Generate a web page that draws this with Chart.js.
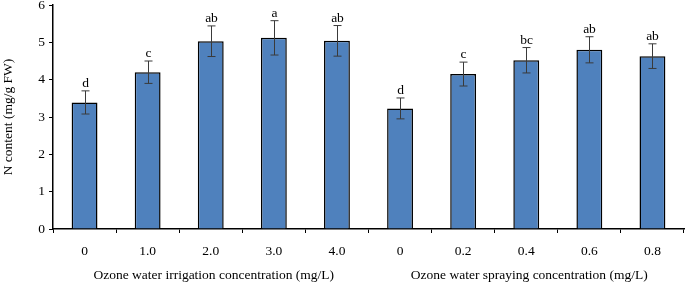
<!DOCTYPE html>
<html><head><meta charset="utf-8">
<script src="https://cdn.jsdelivr.net/npm/chart.js@4"></script>
<style>html,body{margin:0;padding:0;background:#fff}#wrap{width:685px;height:282px}</style>
</head><body><div id="wrap"><canvas id="c" width="685" height="282"></canvas></div>
<script>
const categories = ["0","1.0","2.0","3.0","4.0","0","0.2","0.4","0.6","0.8"];
const values = [3.39, 4.20, 5.03, 5.12, 5.04, 3.23, 4.15, 4.52, 4.80, 4.63];
const errors = [0.31, 0.30, 0.41, 0.46, 0.41, 0.28, 0.32, 0.34, 0.35, 0.33];
const letters = ["d","c","ab","a","ab","d","c","bc","ab","ab"];
const groupTitles = ["Ozone water irrigation concentration (mg/L)", "Ozone water spraying concentration (mg/L)"];
const groupRanges = [[0,4],[5,9]];
const yTicks = [0,1,2,3,4,5,6];
const FONT = "'Liberation Serif', 'Times New Roman', serif";
const FS = 13.5;

const extras = {
  id: 'extras',
  afterDatasetsDraw(chart) {
    const ctx = chart.ctx, x = chart.scales.x, y = chart.scales.y;
    ctx.save();
    ctx.strokeStyle = '#3a3a3a';
    ctx.lineWidth = 1;
    ctx.fillStyle = '#000';
    ctx.font = FS + 'px ' + FONT;
    ctx.textAlign = 'center';
    ctx.textBaseline = 'alphabetic';
    values.forEach((v, i) => {
      const cx = Math.round(x.getPixelForValue(i)) + 0.5;
      const yt = y.getPixelForValue(v + errors[i]);
      const yb = y.getPixelForValue(v - errors[i]);
      ctx.beginPath();
      ctx.moveTo(cx, yt); ctx.lineTo(cx, yb);
      ctx.moveTo(cx - 4, yt); ctx.lineTo(cx + 4, yt);
      ctx.moveTo(cx - 4, yb); ctx.lineTo(cx + 4, yb);
      ctx.stroke();
      ctx.fillText(letters[i], cx, yt - 4);
    });
    ctx.textBaseline = 'middle';
    groupRanges.forEach((r, g) => {
      const c = (x.getPixelForValue(r[0]) + x.getPixelForValue(r[1])) / 2;
      ctx.fillText(groupTitles[g], c + 3, 275);
    });
    ctx.restore();
  }
};

new Chart(document.getElementById('c'), {
  type: 'bar',
  data: {
    labels: categories,
    datasets: [{
      data: values,
      backgroundColor: '#4F81BD',
      borderColor: '#000',
      borderWidth: 1.5,
      barPercentage: 0.41,
      categoryPercentage: 1.0
    }]
  },
  options: {
    responsive: false,
    animation: false,
    devicePixelRatio: 1,
    layout: { padding: { left: 0, right: 1, top: 0, bottom: 0 } },
    plugins: { legend: { display: false }, tooltip: { enabled: false } },
    scales: {
      x: {
        offset: true,
        grid: { display: true, offset: true, drawOnChartArea: false, drawTicks: true, tickLength: 4, color: '#000', lineWidth: 1 },
        border: { display: true, color: '#000', width: 1.5 },
        ticks: { color: '#000', font: { family: FONT, size: FS }, padding: 10, maxRotation: 0, autoSkip: false },
        afterFit(s) { s.height = 53; }
      },
      y: {
        min: 0, max: 6,
        afterBuildTicks(s) { s.ticks = yTicks.map(v => ({ value: v })); },
        grid: { display: true, drawOnChartArea: false, drawTicks: true, tickLength: 4, color: '#000', lineWidth: 1 },
        border: { display: true, color: '#000', width: 1.5 },
        ticks: { color: '#000', font: { family: FONT, size: FS }, padding: 4 },
        title: { display: true, text: 'N content (mg/g FW)', color: '#000', font: { family: FONT, size: FS }, padding: { top: 0, bottom: 6 } },
        afterFit(s) { s.width = 53; s.paddingTop = 5; s.paddingBottom = 0; }
      }
    }
  },
  plugins: [extras]
});
</script>
</body></html>
